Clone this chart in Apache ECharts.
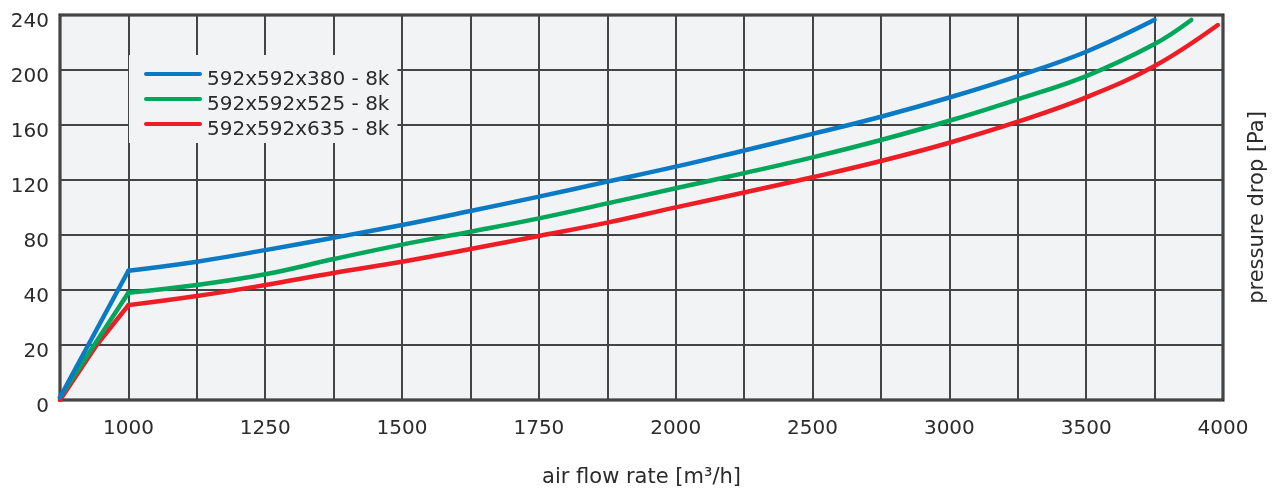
<!DOCTYPE html>
<html>
<head>
<meta charset="utf-8">
<script src="https://cdn.jsdelivr.net/npm/echarts@6/dist/echarts.min.js"></script>
<style>
html,body{margin:0;padding:0;background:#ffffff;}
#chart{width:1284px;height:488px;}
</style>
</head>
<body>
<div id="chart"></div>
<script>
// Gridline values (the chart uses piecewise-linear scales between gridlines)
const xTicks = [875, 1000, 1125, 1250, 1375, 1500, 1625, 1750, 1875, 2000, 2250, 2500, 2750, 3000, 3250, 3500, 3750, 4000];
const xTickLabels = ['', '1000', '', '1250', '', '1500', '', '1750', '', '2000', '', '2500', '', '3000', '', '3500', '', '4000'];
const yTicks = [0, 20, 40, 80, 120, 160, 200, 240];
const yTickLabels = ['0', '20', '40', '80', '120', '160', '200', '240'];

const seriesNames = ['592x592x380 - 8k', '592x592x525 - 8k', '592x592x635 - 8k'];
const seriesColors = ['#0a7ac4', '#00a65a', '#ee1c25'];

// air flow rate [m3/h] and pressure drop [Pa]
const flow380 = [875, 1000, 1125, 1250, 1375, 1500, 1625, 1750, 1875, 2000, 2250, 2500, 2750, 3000, 3250, 3500, 3750];
const drop380 = [1, 54, 60.6, 69, 78, 87.3, 97.5, 107.9, 118.8, 129.7, 141.5, 153.5, 166, 180, 195.6, 213.3, 236.5];

const flow525 = [875, 1000, 1125, 1250, 1375, 1500, 1625, 1750, 1875, 2000, 2250, 2500, 2750, 3000, 3250, 3500, 3750, 3884];
const drop525 = [1, 39, 43.6, 51.4, 62.5, 73, 82.4, 92.1, 103, 114, 125, 136.5, 149.1, 163.1, 178.7, 195.6, 218.9, 236.4];

const flow635 = [875, 942, 1000, 1125, 1250, 1375, 1500, 1625, 1750, 1875, 2000, 2250, 2500, 2750, 3000, 3250, 3500, 3750, 3981];
const drop635 = [0, 20, 34.5, 37.8, 43.6, 52.4, 60.6, 69.8, 79.3, 89, 100.1, 110.9, 122, 133.8, 147.1, 162.4, 180.1, 202.9, 232.7];

const kneeFlow = 1000; // the curves have a sharp knee here

// map a real value onto the gridline index scale (piecewise linear between gridlines)
function toGrid(v, ticks) {
  if (v <= ticks[0]) return 0;
  for (let i = 0; i < ticks.length - 1; i++) {
    if (v <= ticks[i + 1]) {
      return i + (v - ticks[i]) / (ticks[i + 1] - ticks[i]);
    }
  }
  return ticks.length - 1;
}
function buildData(flows, drops, from, to) {
  const out = [];
  flows.forEach((f, i) => {
    if (f >= from && f <= to) out.push([toGrid(f, xTicks), toGrid(drops[i], yTicks)]);
  });
  return out;
}

const font = 'DejaVu Sans';
const textColor = '#2b2b2b';
const gridLineColor = '#444444';

const chart = echarts.init(document.getElementById('chart'), null, {renderer: 'canvas'});
const flows = [flow380, flow525, flow635];
const drops = [drop380, drop525, drop635];

const series = [];
seriesNames.forEach((name, i) => {
  const common = {
    name: name,
    type: 'line',
    showSymbol: false,
    symbol: 'none',
    color: seriesColors[i],
    lineStyle: {width: 4.5, color: seriesColors[i], cap: 'round', join: 'round'},
    z: 3 + (2 - i)
  };
  series.push(Object.assign({}, common, {data: buildData(flows[i], drops[i], 0, kneeFlow), smooth: false}));
  series.push(Object.assign({}, common, {data: buildData(flows[i], drops[i], kneeFlow, 1e9), smooth: 0.4}));
});

chart.setOption({
  animation: false,
  backgroundColor: '#ffffff',
  grid: {
    left: 60, right: 61, top: 15, bottom: 88,
    outerBoundsMode: 'none',
    containLabel: false,
    show: true,
    backgroundColor: '#f2f3f5',
    borderColor: '#1c1c1c',
    borderWidth: 3
  },
  legend: {
    data: seriesNames,
    orient: 'vertical',
    left: 129,
    top: 55,
    padding: [15, 8, 3, 15],
    backgroundColor: '#f2f3f5',
    itemWidth: 58,
    itemHeight: 16,
    itemGap: 5,
    symbolKeepAspect: false,
    icon: 'path://M2,0 L56,0 Q58,0 58,2 Q58,4 56,4 L2,4 Q0,4 0,2 Q0,0 2,0 Z M0,16 L0,16',
    textStyle: {
      fontFamily: font,
      fontSize: 20,
      color: textColor,
      lineHeight: 20
    }
  },
  xAxis: {
    type: 'value',
    min: 0,
    max: xTicks.length - 1,
    interval: 1,
    name: 'air flow rate [m³/h]',
    nameLocation: 'middle',
    nameGap: 67,
    nameTextStyle: {fontFamily: font, fontSize: 21, color: textColor},
    axisLine: {show: false},
    axisTick: {show: false},
    axisLabel: {
      fontFamily: font, fontSize: 20, color: textColor, margin: 19,
      formatter: v => xTickLabels[Math.round(v)] || ''
    },
    splitLine: {show: true, lineStyle: {color: gridLineColor, width: 2}}
  },
  yAxis: [
    {
      type: 'value',
      position: 'left',
      min: 0,
      max: yTicks.length - 1,
      interval: 1,
      axisLine: {show: false},
      axisTick: {show: false},
      axisLabel: {
        margin: 11,
        formatter: v => '{t|' + (yTickLabels[Math.round(v)] || '') + '}',
        rich: {
          t: {fontFamily: font, fontSize: 20, color: textColor, lineHeight: 20, padding: [14, 0, 0, 0]}
        }
      },
      splitLine: {show: true, lineStyle: {color: gridLineColor, width: 2}}
    },
    {
      type: 'value',
      position: 'right',
      min: 0,
      max: yTicks.length - 1,
      interval: 1,
      name: 'pressure drop [Pa]',
      nameLocation: 'middle',
      nameRotate: 90,
      nameGap: 24,
      nameTextStyle: {fontFamily: font, fontSize: 21, color: textColor},
      axisLine: {show: false},
      axisTick: {show: false},
      axisLabel: {show: false},
      splitLine: {show: false}
    }
  ],
  series: series
});
</script>
</body>
</html>
